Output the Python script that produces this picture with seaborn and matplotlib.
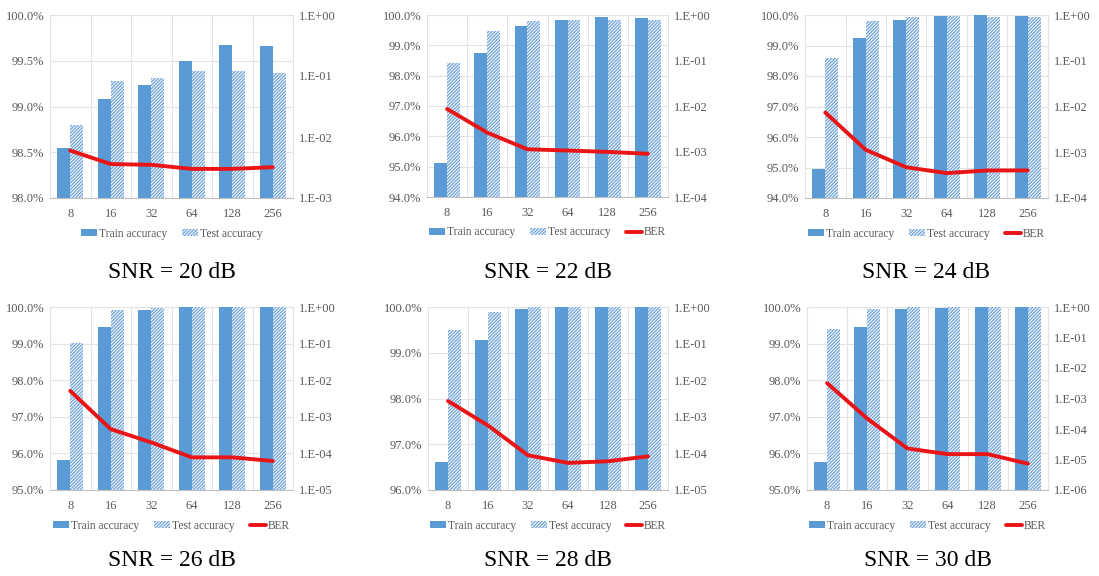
import numpy as np
import pandas as pd
import matplotlib
matplotlib.use("Agg")
import matplotlib.pyplot as plt
from matplotlib.patches import Patch
from matplotlib.lines import Line2D
from matplotlib.ticker import FixedLocator, FuncFormatter
import seaborn as sns

# block sizes on the x axis
sizes = ["8", "16", "32", "64", "128", "256"]

# accuracy in %, BER as fraction
train_20 = [98.55, 99.08, 99.23, 99.50, 99.67, 99.66]
test_20 = [98.80, 99.28, 99.31, 99.39, 99.39, 99.37]
ber_20 = [6.0e-3, 3.6e-3, 3.5e-3, 3.0e-3, 3.0e-3, 3.2e-3]

train_22 = [95.13, 98.74, 99.65, 99.82, 99.93, 99.89]
test_22 = [98.42, 99.48, 99.80, 99.82, 99.82, 99.85]
ber_22 = [8.6e-3, 2.6e-3, 1.12e-3, 1.05e-3, 9.8e-4, 8.9e-4]

train_24 = [94.95, 99.23, 99.84, 99.97, 100.0, 99.98]
test_24 = [98.60, 99.81, 99.93, 99.97, 99.93, 99.93]
ber_24 = [7.4e-3, 1.13e-3, 4.7e-4, 3.5e-4, 4.0e-4, 4.0e-4]

train_26 = [95.81, 99.44, 99.92, 100.0, 100.0, 100.0]
test_26 = [99.03, 99.92, 99.97, 100.0, 100.0, 100.0]
ber_26 = [5.1e-3, 4.6e-4, 2.0e-4, 7.8e-5, 7.8e-5, 6.2e-5]

train_28 = [96.61, 99.27, 99.96, 100.0, 100.0, 100.0]
test_28 = [99.49, 99.89, 99.99, 100.0, 100.0, 100.0]
ber_28 = [2.7e-3, 5.8e-4, 8.9e-5, 5.5e-5, 6.1e-5, 8.3e-5]

train_30 = [95.77, 99.45, 99.95, 99.98, 100.0, 100.0]
test_30 = [99.39, 99.95, 100.0, 100.0, 100.0, 100.0]
ber_30 = [3.2e-3, 2.2e-4, 2.3e-5, 1.5e-5, 1.5e-5, 7.3e-6]

snr_labels = ["SNR = 20 dB", "SNR = 22 dB", "SNR = 24 dB",
              "SNR = 26 dB", "SNR = 28 dB", "SNR = 30 dB"]

BLUE = "#5B9BD5"
HATCH = "#76A8DA"
RED = "#E81416"
GRID = "#E3E3E3"
TXT = "#595959"

sns.set_style("white")
plt.rcParams["font.family"] = ["Liberation Serif", "DejaVu Serif"]
plt.rcParams["hatch.linewidth"] = 1.0

W, H = 1099, 576
fig = plt.figure(figsize=(W / 100, H / 100), dpi=100)


def box(x0, y0, x1, y1):
    return [x0 / W, 1 - y1 / H, (x1 - x0) / W, (y1 - y0) / H]


panels = [
    (box(50, 15, 293, 198), train_20, test_20, ber_20, (98.0, 100.0, 0.5), (-3, 0), False),
    (box(427, 15, 668, 197), train_22, test_22, ber_22, (94.0, 100.0, 1.0), (-4, 0), True),
    (box(805, 15, 1048, 198), train_24, test_24, ber_24, (94.0, 100.0, 1.0), (-4, 0), True),
    (box(50, 307, 293, 490), train_26, test_26, ber_26, (95.0, 100.0, 1.0), (-5, 0), True),
    (box(428, 307, 668, 490), train_28, test_28, ber_28, (96.0, 100.0, 1.0), (-5, 0), True),
    (box(807, 307, 1048, 490), train_30, test_30, ber_30, (95.0, 100.0, 1.0), (-6, 0), True),
]

for i, (rect, train, test, ber, (lo, hi, step), (elo, ehi), ber_leg) in enumerate(panels):
    ax = fig.add_axes(rect)
    df = pd.DataFrame({
        "size": sizes * 2,
        "acc": train + test,
        "set": ["Train accuracy"] * 6 + ["Test accuracy"] * 6,
    })
    sns.barplot(data=df, x="size", y="acc", hue="set", ax=ax,
                palette=[BLUE, BLUE], width=0.64, gap=0, legend=False,
                saturation=1)
    for bar in ax.containers[1]:
        bar.set_facecolor("white")
        bar.set_edgecolor(HATCH)
        bar.set_hatch("//////////")
        bar.set_linewidth(0)
    for bar in ax.containers[0]:
        bar.set_linewidth(0)

    ax.set_ylim(lo, hi)
    ax.set_xlim(-0.5, 5.5)
    yt = np.arange(lo, hi + 1e-9, step)
    ax.yaxis.set_major_locator(FixedLocator(yt))
    ax.yaxis.set_major_formatter(FuncFormatter(lambda v, p: f"{v:.1f}%"))
    for v in yt[1:]:
        ax.axhline(v, color=GRID, lw=0.8, zorder=0)
    for xv in np.arange(0.5, 5.5, 1.0):
        ax.axvline(xv, color=GRID, lw=0.8, zorder=0)
    ax.set_xlabel("")
    ax.set_ylabel("")
    ax.spines["top"].set_visible(False)
    ax.spines["left"].set_color(GRID)
    ax.spines["right"].set_color(GRID)
    ax.spines["bottom"].set_color("#BFBFBF")
    ax.tick_params(axis="y", length=0, labelsize=9, colors=TXT, pad=4)
    ax.tick_params(axis="x", length=0, labelsize=9, colors=TXT, pad=7)

    ax2 = ax.twinx()
    sns.lineplot(x=np.arange(6), y=ber, ax=ax2, color=RED, lw=2.8)
    ax2.set_yscale("log")
    ax2.set_ylim(10.0 ** elo, 10.0 ** ehi)
    ax2.set_xlim(-0.5, 5.5)
    ax2.yaxis.set_major_locator(FixedLocator(10.0 ** np.arange(elo, ehi + 1)))
    ax2.yaxis.set_minor_locator(FixedLocator([]))
    ax2.yaxis.set_major_formatter(
        FuncFormatter(lambda v, p: f"1.E{int(round(np.log10(v))):+03d}"))
    ax2.set_ylabel("")
    for s in ax2.spines.values():
        s.set_visible(False)
    ax2.tick_params(axis="y", length=0, labelsize=9, colors=TXT, pad=4)

    handles = [Patch(facecolor=BLUE, edgecolor="none", label="Train accuracy"),
               Patch(facecolor="white", edgecolor=HATCH, hatch="//////////",
                     lw=0, label="Test accuracy")]
    if ber_leg:
        handles.append(Line2D([0], [0], color=RED, lw=2.8, label="BER"))
    leg = ax.legend(handles=handles, loc="upper center",
                    bbox_to_anchor=(0.5, -0.105), ncol=len(handles),
                    frameon=False, fontsize=8.3, handlelength=1.4,
                    handleheight=0.6, handletextpad=0.15, columnspacing=1.3)
    for t in leg.get_texts():
        t.set_color(TXT)

    pos = ax.get_position()
    cy = 272 if i < 3 else 560
    fig.text(pos.x0 + pos.width / 2, 1 - cy / H, snr_labels[i],
             ha="center", va="center", fontsize=17, color="black")

fig.savefig("out.png", dpi=100)
